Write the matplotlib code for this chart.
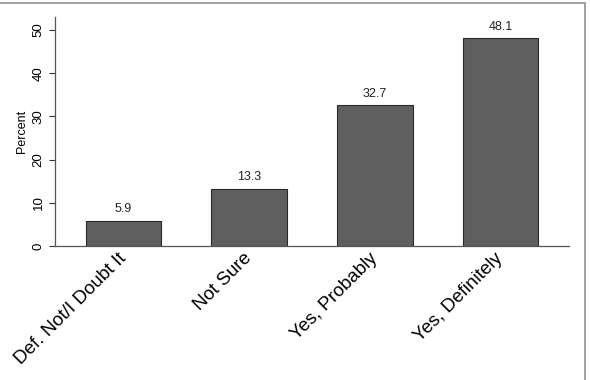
import matplotlib
matplotlib.use('Agg')
import matplotlib.pyplot as plt
from matplotlib.patches import Rectangle

categories = ['Def. Not/I Doubt It', 'Not Sure', 'Yes, Probably', 'Yes, Definitely']
percents = [5.9, 13.3, 32.7, 48.1]
yticks = [0, 10, 20, 30, 40, 50]

plt.rcParams['font.family'] = ['Liberation Sans', 'DejaVu Sans']

fig = plt.figure(figsize=(5.9, 3.8), dpi=100)
ax = fig.add_axes([55/590, 1 - 246/380, (569 - 55)/590, (246 - 17)/380])

x = range(len(categories))
ax.bar(x, percents, width=0.6, color='#5f5f5f', edgecolor='#2a2a2a', linewidth=0.8, zorder=2)
for xi, v in zip(x, percents):
    ax.text(xi, v + 1.2, '%.1f' % v, ha='center', va='bottom', fontsize=9, color='#222222')

ax.set_xlim(-0.545, 3.545)
ax.set_ylim(0, 53)
ax.set_yticks(yticks)
ax.set_yticklabels([str(t) for t in yticks], rotation=90, va='center', fontsize=9.5)
ax.set_ylabel('Percent', fontsize=9, labelpad=3)

ax.set_xticks(list(x))
ax.set_xticklabels(categories, rotation=45, ha='right', va='center', rotation_mode='anchor', fontsize=13.5)
ax.tick_params(axis='x', length=0, pad=7)
ax.tick_params(axis='y', length=4, color='#333333', width=0.8)

for s in ['top', 'right']:
    ax.spines[s].set_visible(False)
for s in ['left', 'bottom']:
    ax.spines[s].set_color('#555555')
    ax.spines[s].set_linewidth(0.9)

# outer graph region frame (only top and right edges show)
fig.patches.append(Rectangle((-0.01, -0.01), 585/590 + 0.01, 377/380 + 0.01, transform=fig.transFigure,
                             fill=False, edgecolor='#999999', linewidth=1.3))

fig.savefig('out.png', dpi=100)
